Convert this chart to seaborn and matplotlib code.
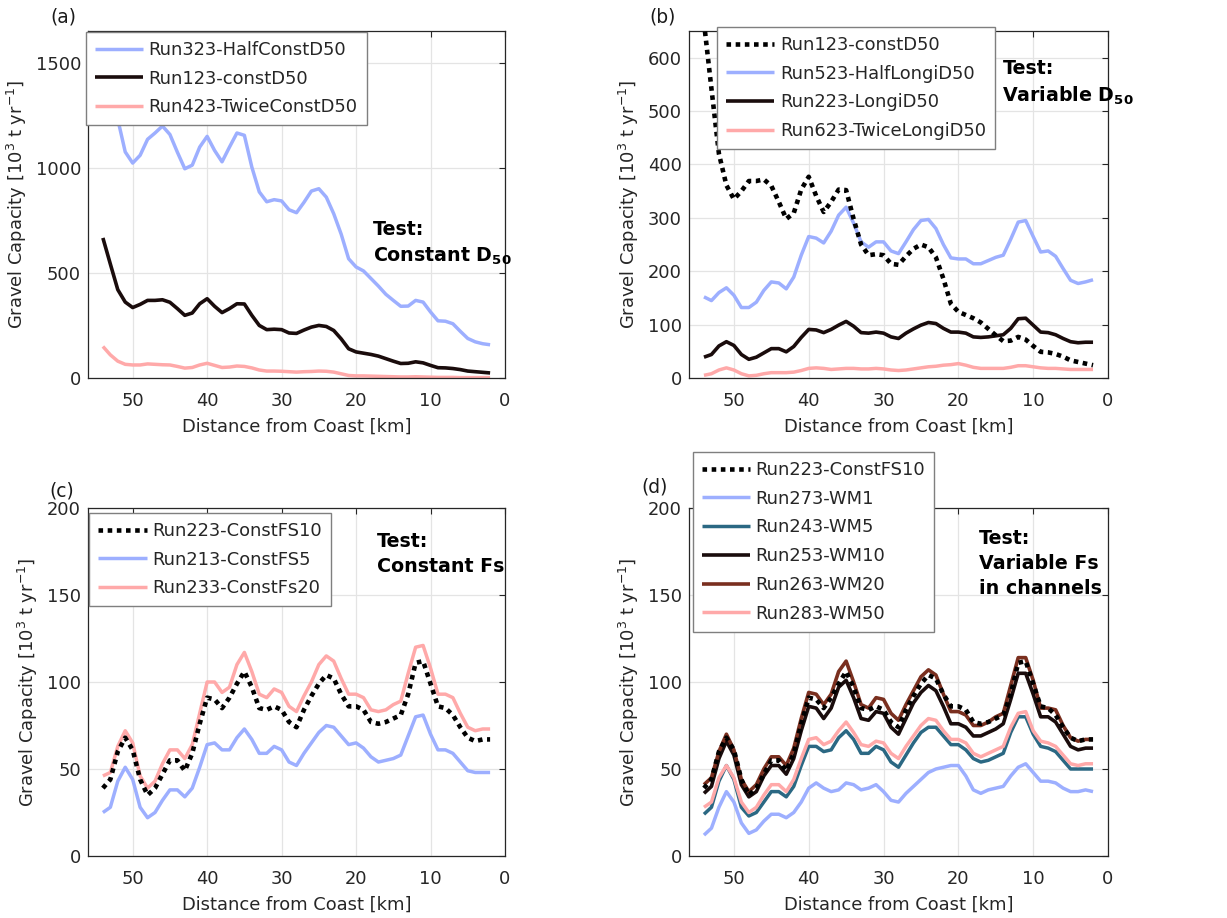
import matplotlib
matplotlib.use("Agg")
import matplotlib.pyplot as plt
import seaborn as sns

# ---------------- data ----------------
dist_km = list(range(54, 1, -1))  # 54 ... 2 km

# panel (a)
run323_half_const = [1640, 1450, 1230, 1075, 1022, 1059, 1135, 1165, 1198, 1158, 1074, 995, 1012, 1098,
                     1149, 1082, 1028, 1098, 1165, 1154, 1003, 885, 838, 848, 842, 800, 786, 835, 889,
                     900, 860, 781, 684, 567, 528, 509, 473, 437, 398, 369, 341, 342, 369, 361, 314,
                     272, 270, 258, 222, 188, 172, 163, 158]
run123_const = [666, 542, 420, 361, 335, 350, 369, 369, 372, 360, 330, 298, 309, 353, 377, 341, 311,
                330, 353, 352, 298, 250, 230, 232, 230, 214, 212, 228, 242, 250, 245, 226, 186, 139,
                124, 118, 112, 104, 92, 80, 69, 70, 77, 72, 60, 49, 48, 45, 40, 33, 30, 27, 24]
run423_twice_const = [150, 110, 80, 65, 62, 62, 67, 65, 63, 62, 55, 47, 50, 62, 70, 60, 50, 52, 57,
                      55, 48, 38, 33, 33, 32, 30, 28, 30, 31, 33, 32, 28, 20, 12, 10, 10, 9, 8, 7, 6,
                      5, 5, 6, 5, 4, 3, 3, 3, 2, 2, 2, 2, 2]

# panel (b)
run523_half_longi = [152, 145, 160, 169, 155, 132, 132, 142, 164, 180, 178, 167, 189, 230, 265, 262,
                     253, 275, 305, 320, 290, 255, 245, 255, 255, 238, 233, 255, 278, 295, 297, 280,
                     250, 225, 223, 223, 214, 214, 220, 226, 230, 260, 292, 295, 265, 236, 238, 228,
                     205, 183, 177, 180, 184]
# Run223 (LongiD50 == ConstFS10)
run223_fs10 = [39, 44, 60, 68, 61, 44, 35, 39, 47, 55, 55, 49, 59, 76, 91, 90, 85, 91, 99, 106, 97,
               85, 84, 86, 84, 77, 74, 84, 92, 99, 104, 102, 93, 86, 86, 84, 77, 76, 77, 79, 81, 93,
               111, 112, 99, 86, 85, 81, 74, 68, 66, 67, 67]
run623_twice_longi = [5, 8, 15, 19, 15, 8, 4, 5, 8, 10, 10, 10, 11, 14, 18, 19, 18, 16, 17, 18, 18,
                      17, 17, 18, 17, 15, 14, 15, 17, 19, 21, 22, 24, 25, 27, 24, 20, 18, 18, 18, 18,
                      20, 23, 23, 21, 19, 18, 18, 17, 16, 16, 16, 16]

# panel (c)
run213_fs5 = [25, 28, 43, 51, 44, 28, 22, 25, 32, 38, 38, 34, 39, 51, 64, 65, 61, 61, 68, 73, 67, 59,
              59, 63, 61, 54, 52, 59, 65, 71, 75, 74, 69, 64, 65, 62, 57, 54, 55, 56, 58, 69, 80, 81,
              70, 61, 61, 59, 54, 49, 48, 48, 48]
run233_fs20 = [46, 48, 63, 72, 65, 46, 39, 43, 53, 61, 61, 56, 64, 82, 100, 100, 94, 97, 110, 117, 106,
               93, 91, 96, 94, 86, 83, 92, 100, 110, 115, 112, 102, 93, 93, 91, 84, 83, 84, 87, 89,
               105, 120, 121, 108, 93, 93, 91, 82, 74, 72, 73, 73]

# panel (d)
run273_wm1 = [12, 16, 28, 37, 31, 19, 13, 15, 20, 24, 24, 22, 25, 31, 39, 42, 39, 37, 38, 42, 41, 38,
              39, 41, 37, 32, 31, 36, 40, 44, 48, 50, 51, 52, 52, 46, 38, 36, 38, 39, 40, 46, 51, 53,
              48, 43, 43, 42, 39, 37, 37, 38, 37]
run243_wm5 = [24, 28, 43, 52, 44, 28, 23, 25, 31, 37, 37, 34, 40, 52, 63, 63, 60, 61, 68, 72, 67, 59,
              59, 63, 61, 54, 51, 58, 65, 71, 74, 74, 69, 64, 64, 61, 56, 54, 55, 57, 59, 71, 80, 80,
              70, 63, 62, 60, 55, 50, 50, 50, 50]
run253_wm10 = [36, 40, 56, 66, 58, 41, 34, 37, 46, 52, 52, 47, 56, 72, 86, 85, 79, 85, 97, 101, 91,
               79, 78, 83, 82, 74, 70, 79, 88, 94, 98, 95, 86, 76, 76, 74, 69, 69, 71, 73, 76, 90,
               105, 105, 93, 80, 80, 77, 70, 63, 61, 62, 62]
run263_wm20 = [41, 45, 60, 70, 61, 44, 37, 41, 50, 57, 57, 52, 62, 79, 94, 93, 87, 93, 106, 112, 100,
               87, 85, 91, 90, 82, 78, 87, 95, 103, 107, 104, 93, 83, 83, 81, 75, 75, 77, 80, 82, 98,
               114, 114, 101, 85, 85, 84, 75, 68, 66, 67, 67]
run283_wm50 = [28, 31, 45, 52, 45, 31, 25, 28, 35, 41, 41, 37, 44, 56, 67, 68, 64, 66, 72, 77, 71, 64,
               63, 66, 65, 59, 56, 63, 69, 75, 79, 78, 72, 67, 67, 65, 59, 57, 59, 61, 63, 74, 82, 83,
               72, 66, 65, 63, 58, 53, 52, 53, 53]

# ---------------- style ----------------
LBLUE = "#9DAFFF"
PINK = "#FFA9A9"
BLACK = "#1A0C0C"
TEAL = "#2B6883"
BROWN = "#7A2F1F"
FS = 12.9

sns.set_style("white")
plt.rcParams["font.family"] = ["DejaVu Sans"]
plt.rcParams["mathtext.default"] = "regular"

W, H = 1227, 918
fig = plt.figure(figsize=(W / 100, H / 100), dpi=100)


def px_axes(l, t, r, b):
    return fig.add_axes([l / W, 1 - b / H, (r - l) / W, (b - t) / H])


def draw(ax, series):
    for label, y, color, lw, dotted in series:
        sns.lineplot(x=dist_km, y=y, ax=ax, color=color, lw=lw, label=label,
                     estimator=None, sort=False, legend=False)
        line = ax.lines[-1]
        if dotted:
            line.set_dashes((1, 1))
            line.set_dash_capstyle("butt")
            line.set_zorder(5)
        line.set_solid_capstyle("butt")


def style(ax, ylim, yticks):
    ax.set_xlim(56, 0)
    ax.set_ylim(*ylim)
    ax.set_xticks([50, 40, 30, 20, 10, 0])
    ax.set_yticks(yticks)
    ax.grid(True, color="#E4E4E4", lw=0.9)
    ax.set_axisbelow(True)
    for s in ax.spines.values():
        s.set_color("#262626")
        s.set_linewidth(0.9)
        s.set_visible(True)
    ax.tick_params(axis="both", direction="in", length=4, width=0.8, color="#262626",
                   labelsize=FS, labelcolor="#262626", top=True, right=True)
    ax.tick_params(axis="x", pad=10)
    ax.tick_params(axis="y", pad=5)
    ax.set_xlabel("Distance from Coast [km]", fontsize=FS, color="#262626", labelpad=6)
    ax.set_ylabel(r"Gravel Capacity [10$^{3}$ t yr$^{-1}$]", fontsize=FS, color="#262626",
                  labelpad=5)


def legend(ax, anchor):
    leg = ax.legend(loc="upper left", bbox_to_anchor=anchor, borderaxespad=0, fontsize=FS,
                    frameon=True, fancybox=False, framealpha=1, edgecolor="#7F7F7F",
                    handlelength=2.7, handletextpad=0.3, labelspacing=0.6, borderpad=0.5)
    leg.get_frame().set_linewidth(1.0)
    leg.set_zorder(10)


def test_text(ax, x, y, s):
    ax.text(x, y, s, transform=ax.transAxes, fontsize=FS + 0.8, fontweight="bold",
            va="top", ha="left", linespacing=1.4, color="black", zorder=11)


# (a)
ax_a = px_axes(88, 31, 505, 378)
draw(ax_a, [("Run323-HalfConstD50", run323_half_const, LBLUE, 2.5, False),
            ("Run123-constD50", run123_const, BLACK, 2.6, False),
            ("Run423-TwiceConstD50", run423_twice_const, PINK, 2.5, False)])
style(ax_a, (0, 1650), [0, 500, 1000, 1500])
legend(ax_a, (-0.005, 0.997))
test_text(ax_a, 0.684, 0.455, "Test:\nConstant D$_{\\mathbf{50}}$")

# (b)
ax_b = px_axes(689, 31, 1108, 378)
draw(ax_b, [("Run123-constD50", run123_const, "black", 3.3, True),
            ("Run523-HalfLongiD50", run523_half_longi, LBLUE, 2.5, False),
            ("Run223-LongiD50", run223_fs10, BLACK, 2.6, False),
            ("Run623-TwiceLongiD50", run623_twice_longi, PINK, 2.5, False)])
style(ax_b, (0, 650), [0, 100, 200, 300, 400, 500, 600])
legend(ax_b, (0.067, 1.0115))
test_text(ax_b, 0.748, 0.92, "Test:\nVariable D$_{\\mathbf{50}}$")

# (c)
ax_c = px_axes(88, 508, 505, 856)
draw(ax_c, [("Run223-ConstFS10", run223_fs10, "black", 3.3, True),
            ("Run213-ConstFS5", run213_fs5, LBLUE, 2.5, False),
            ("Run233-ConstFs20", run233_fs20, PINK, 2.5, False)])
style(ax_c, (0, 200), [0, 50, 100, 150, 200])
legend(ax_c, (0.003, 0.986))
test_text(ax_c, 0.692, 0.93, "Test:\nConstant Fs")

# (d)
ax_d = px_axes(689, 508, 1108, 856)
draw(ax_d, [("Run223-ConstFS10", run223_fs10, "black", 3.3, True),
            ("Run273-WM1", run273_wm1, LBLUE, 2.5, False),
            ("Run243-WM5", run243_wm5, TEAL, 2.5, False),
            ("Run253-WM10", run253_wm10, BLACK, 2.6, False),
            ("Run263-WM20", run263_wm20, BROWN, 2.6, False),
            ("Run283-WM50", run283_wm50, PINK, 2.5, False)])
ax_d.lines[0].set_zorder(2.5)
style(ax_d, (0, 200), [0, 50, 100, 150, 200])
legend(ax_d, (0.0095, 1.161))
test_text(ax_d, 0.692, 0.94, "Test:\nVariable Fs\nin channels")

# panel letters
for x, y, s in [(50, 17, "(a)"), (649, 17, "(b)"), (49, 491, "(c)"), (641, 487, "(d)")]:
    fig.text(x / W, 1 - y / H, s, fontsize=FS + 0.5, color="#1A1A1A", ha="left", va="center")

fig.savefig("out.png", dpi=100, facecolor="white")
